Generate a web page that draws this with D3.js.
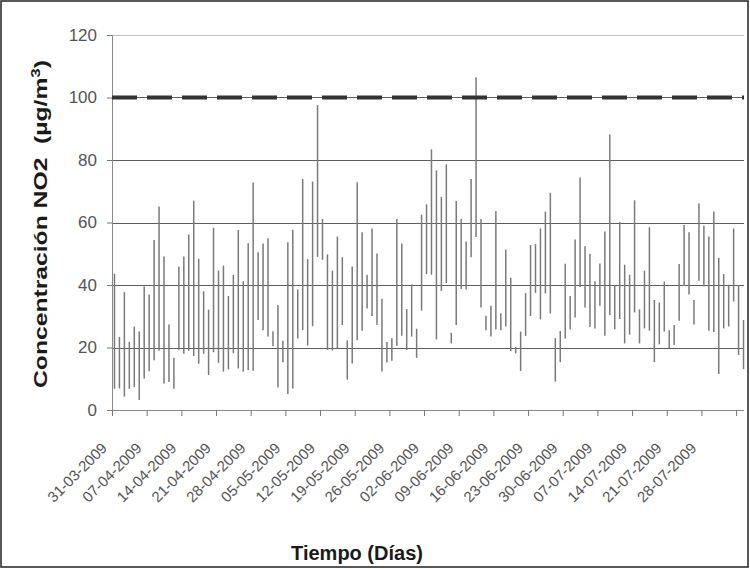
<!DOCTYPE html>
<html>
<head>
<meta charset="utf-8">
<script src="https://cdn.jsdelivr.net/npm/d3@7"></script>
<style>
  body { margin: 0; background: #fff; }
  text { font-family: "Liberation Sans", Arial, sans-serif; }
</style>
</head>
<body>
<script>

// daily NO2 maximum and minimum, 31-03-2009 onwards (one value per day)
var startDate = new Date(2009, 2, 31)

var dailyMax = [43.6, 23.4, 37.7, 21.8, 26.7, 25.1, 39.5, 37.0, 54.4, 65.1,
  49.1, 27.4, 16.7, 45.9, 49.1, 56.2, 67.0, 48.4, 38.0, 32.1,
  58.3, 44.6, 46.2, 36.5, 43.2, 57.6, 41.2, 53.4, 72.8, 50.5,
  53.3, 55.0, 25.2, 33.6, 22.2, 53.7, 57.7, 38.6, 73.9, 48.3,
  73.1, 97.6, 61.1, 49.8, 44.6, 55.5, 48.9, 22.3, 45.9, 72.9,
  56.9, 43.3, 58.1, 50.1, 35.6, 21.8, 23.0, 61.1, 53.3, 32.3,
  40.2, 26.0, 62.5, 65.8, 83.4, 76.7, 68.2, 78.6, 24.7, 66.9,
  61.1, 53.9, 73.9, 106.5, 61.1, 30.2, 33.4, 63.7, 31.0, 51.4,
  42.3, 20.2, 25.1, 37.4, 52.8, 53.1, 58.1, 63.5, 69.5, 23.0,
  25.3, 46.8, 36.5, 54.6, 74.4, 52.4, 49.9, 41.2, 46.9, 57.1,
  88.2, 39.9, 60.2, 46.5, 43.3, 67.1, 32.2, 44.6, 58.5, 35.2,
  34.4, 41.1, 25.5, 27.2, 46.7, 59.2, 56.9, 35.2, 66.1, 59.0,
  55.5, 63.5, 48.7, 43.5, 40.1, 58.1, 40.0, 28.8]

var dailyMin = [6.8, 6.9, 4.3, 6.8, 7.3, 3.2, 10.1, 12.4, 15.9, 19.0,
  8.5, 9.0, 6.8, 19.3, 18.0, 19.0, 17.3, 14.8, 18.0, 11.2,
  18.5, 15.1, 12.3, 13.0, 18.2, 13.3, 12.3, 12.8, 12.6, 28.8,
  25.5, 23.5, 20.5, 7.2, 15.3, 5.1, 6.9, 22.9, 25.6, 20.6,
  26.8, 49.0, 48.1, 19.2, 19.0, 19.7, 27.2, 9.7, 14.9, 22.3,
  25.4, 32.5, 30.1, 27.2, 12.3, 15.2, 15.8, 20.6, 23.8, 19.2,
  23.5, 16.7, 31.8, 43.5, 43.3, 22.6, 38.1, 40.6, 21.3, 27.2,
  38.7, 38.6, 48.9, 55.4, 32.8, 25.5, 23.5, 25.8, 25.5, 26.7,
  18.8, 18.1, 12.5, 23.7, 30.1, 37.5, 29.0, 37.3, 30.9, 9.1,
  15.3, 22.9, 25.8, 29.6, 39.4, 32.8, 26.6, 26.1, 33.4, 23.8,
  30.4, 25.8, 29.1, 21.3, 24.1, 31.2, 21.3, 26.1, 25.4, 15.3,
  21.0, 25.1, 19.8, 20.8, 28.6, 39.7, 37.0, 27.4, 41.4, 39.5,
  25.4, 25.0, 11.5, 26.1, 26.7, 34.7, 17.6, 13.1]

var tickLabels = ["31-03-2009", "07-04-2009", "14-04-2009", "21-04-2009", "28-04-2009",
  "05-05-2009", "12-05-2009", "19-05-2009", "26-05-2009", "02-06-2009",
  "09-06-2009", "16-06-2009", "23-06-2009", "30-06-2009", "07-07-2009",
  "14-07-2009", "21-07-2009", "28-07-2009"]

var yTicks = [0, 20, 40, 60, 80, 100, 120]
var limitValue = 100

var width = 750, height = 569
var plotLeft = 112, plotRight = 746, plotTop = 35, plotBottom = 410

var days = dailyMax.map(function(d, i){
  return { date: d3.timeDay.offset(startDate, i), max: d, min: dailyMin[i] }
})

var svg = d3.select("body")
  .append("svg")
    .attr("width", width)
    .attr("height", height)

svg.append("rect")
  .attr("x", 1).attr("y", 1)
  .attr("width", width - 3).attr("height", height - 3)
  .attr("fill", "#fff")
  .attr("stroke", "#222")
  .attr("stroke-width", 1.5)

/******** Scales *********/

var x = d3.scaleBand()
  .domain(days.map(function(d){ return d.date }))
  .range([plotLeft, plotRight])
  .paddingInner(0).paddingOuter(0)

var y = d3.scaleLinear()
  .domain([0, 120])
  .range([plotBottom, plotTop])

/******** Gridlines *********/

svg.append("g")
  .selectAll("line")
  .data(yTicks.slice(1))
  .enter()
  .append("line")
    .attr("x1", plotLeft)
    .attr("x2", plotRight - 2)
    .attr("y1", function(d){ return Math.round(y(d)) + 0.5 })
    .attr("y2", function(d){ return Math.round(y(d)) + 0.5 })
    .attr("stroke", function(d){ return d == 120 ? "#c4c4c4" : "#5e5e5e" })
    .attr("stroke-width", 1.2)

/******** Axes *********/

var y_axis = d3.axisLeft(y)
  .tickValues(yTicks)
  .tickSize(5)
  .tickPadding(10)

svg.append("g")
  .attr("transform", "translate(" + plotLeft + ",0)")
  .call(y_axis)
  .call(function(g){
    g.select(".domain").attr("stroke", "#8a8a8a")
    g.selectAll(".tick line").attr("stroke", "#777")
    g.selectAll(".tick text")
      .attr("font-size", "17px")
      .attr("fill", "#555")
      .attr("font-family", "Liberation Sans, Arial, sans-serif")
  })

var weekTicks = days.filter(function(d, i){ return i % 7 == 0 }).map(function(d){ return d.date })

var x_axis = d3.axisBottom(x)
  .tickValues(weekTicks)
  .tickSize(6)
  .tickFormat(function(d, i){ return tickLabels[i] })

var xg = svg.append("g")
  .attr("transform", "translate(0," + plotBottom + ")")
  .call(x_axis)

xg.select(".domain").attr("stroke", "#8a8a8a").attr("d", "M" + plotLeft + ",0.5H" + (plotRight - 2))
xg.selectAll(".tick")
  .attr("transform", function(d){ return "translate(" + x(d) + ",0)" })
xg.selectAll(".tick line").attr("stroke", "#777").attr("x1", 0.5).attr("x2", 0.5)
xg.selectAll(".tick text")
  .attr("font-size", "15px")
  .attr("fill", "#555")
  .attr("font-family", "Liberation Sans, Arial, sans-serif")
  .attr("text-anchor", "end")
  .attr("y", 0)
  .attr("dy", 0)
  .attr("transform", "translate(-4,39) rotate(-45)")

/******** Daily ranges *********/

svg.append("g")
  .selectAll("line")
  .data(days)
  .enter()
  .append("line")
    .attr("x1", function(d){ return x(d.date) + x.bandwidth() / 2 })
    .attr("x2", function(d){ return x(d.date) + x.bandwidth() / 2 })
    .attr("y1", function(d){ return y(d.max) })
    .attr("y2", function(d){ return y(d.min) })
    .attr("stroke", "#7a7a7a")
    .attr("stroke-width", 1.5)

/******** Limit value *********/

svg.append("line")
  .attr("x1", plotLeft)
  .attr("x2", plotRight - 2)
  .attr("y1", y(limitValue))
  .attr("y2", y(limitValue))
  .attr("stroke", "#333")
  .attr("stroke-width", 4)
  .attr("stroke-dasharray", "25,10")

/******** Titles *********/

svg.append("text")
  .attr("transform", "translate(47,224) rotate(-90) scale(1.3,1)")
  .attr("text-anchor", "middle")
  .attr("font-size", "19px")
  .attr("font-weight", "bold")
  .attr("fill", "#1a1a1a")
  .html('Concentración NO2\u00a0 (µg/m<tspan dy="-7" font-size="13px">3</tspan><tspan dy="7">)</tspan>')

svg.append("text")
  .attr("x", 357)
  .attr("y", 560)
  .attr("text-anchor", "middle")
  .attr("font-size", "20px")
  .attr("font-weight", "bold")
  .attr("fill", "#1a1a1a")
  .text("Tiempo (Días)")

</script>
</body>
</html>
